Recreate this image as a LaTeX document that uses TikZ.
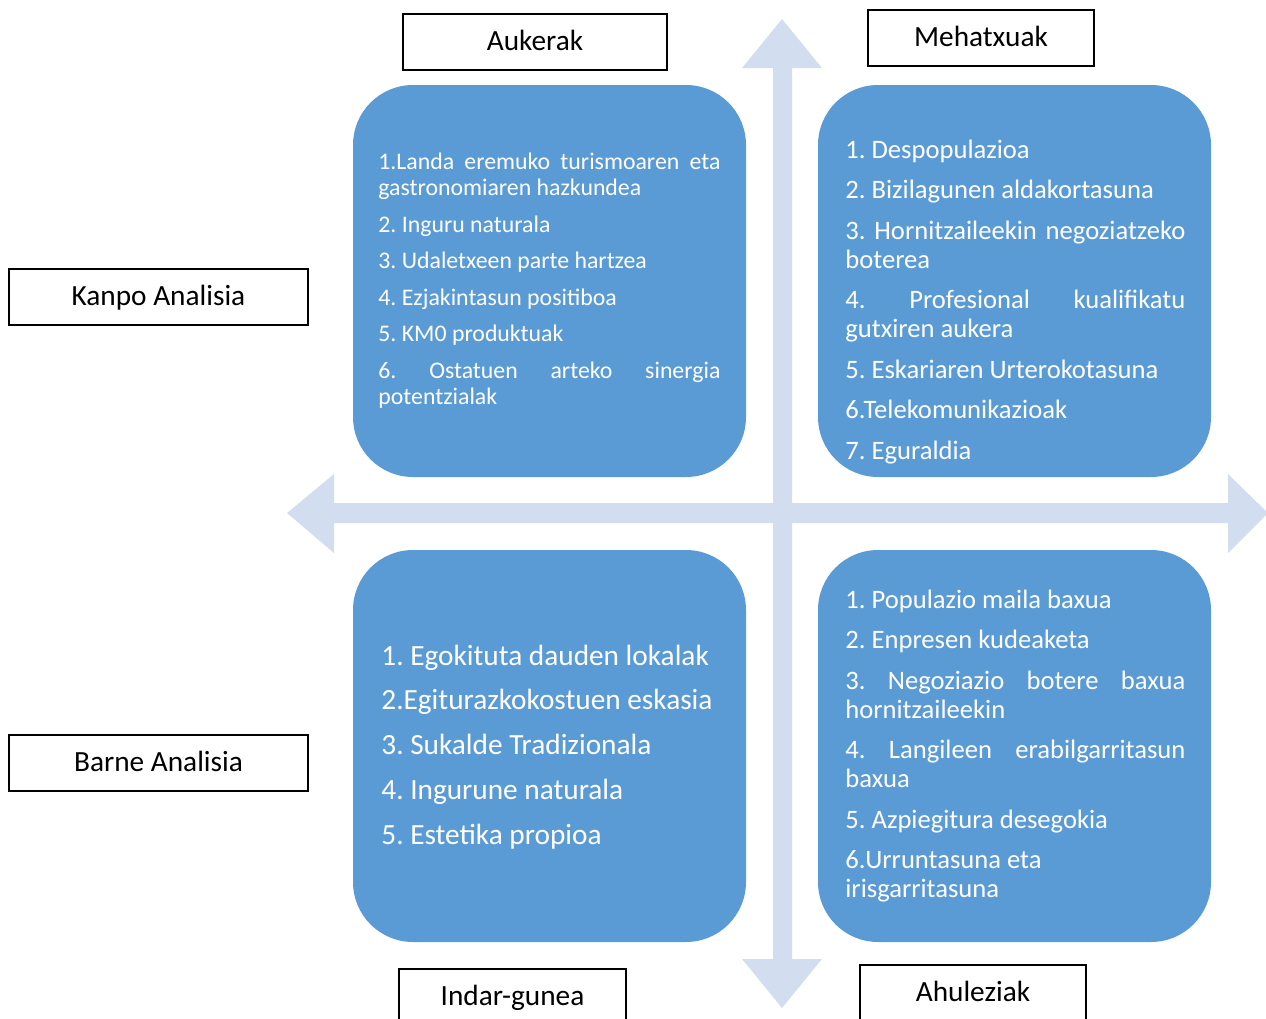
\documentclass[tikz,border=0pt]{standalone}
\usepackage{fontspec}
\setmainfont{Carlito}
\definecolor{boxblue}{HTML}{5B9BD5}
\definecolor{arrowblue}{HTML}{D2DEEF}
\hyphenpenalty=10000
\exhyphenpenalty=10000
\emergencystretch=3em
\frenchspacing

\begin{document}
\begin{tikzpicture}[x=0.5pt,y=-0.5pt,
 titlebox/.style={draw=black,line width=1pt,fill=white,inner sep=0pt,font=\fontsize{14.65}{17}\selectfont,text height=9.4pt,text depth=0pt,minimum height=28pt},
 quad/.style={fill=boxblue,rounded corners=30pt,minimum width=196.5pt,minimum height=196pt,inner sep=0pt},
 items/.style={text=white,anchor=base west,inner sep=0pt,align=justify,font=\fontsize{13.3}{14.5}\selectfont,text width=170pt}]
 \useasboundingbox (0,0) rectangle (1266,1019);
 \clip (0,0) rectangle (1266,1019);
 % axes
 \fill[arrowblue](287,513)--(334,474)--(334,503)--(1228,503)--(1228,474)--(1268,513)--(1228,553)--(1228,523)--(334,523)--(334,553)--cycle;
 \fill[arrowblue](782,19)--(822,68)--(792,68)--(792,959)--(822,959)--(782,1008)--(742,959)--(773,959)--(773,68)--(742,68)--cycle;
 % quadrants
 \node[quad] (opBox) at (549.5,281) {};
 \node[quad] (thBox) at (1014.5,281) {};
 \node[quad] (stBox) at (549.5,746) {};
 \node[quad] (wkBox) at (1014.5,746) {};
 \node[items,text width=171pt,font=\fontsize{11.9}{13.25}\selectfont] (opList) at (378,169) {1.Landa eremuko turismoaren eta gastronomiaren hazkundea\\[5pt]
 2. Inguru naturala\\[5pt]
 3. Udaletxeen parte hartzea\\[5pt]
 4. Ezjakintasun positiboa\\[5pt]
 5. KM0 produktuak\\[5pt]
 6. Ostatuen arteko sinergia potentzialak};
 \node[items] (thList) at (845,158) {1. Despopulazioa\\[5.75pt]
 2. Bizilagunen aldakortasuna\\[5.75pt]
 3. Hornitzaileekin negoziatzeko boterea\\[5.75pt]
 4. Profesional kualifikatu gutxiren aukera\\[5.75pt]
 5. Eskariaren Urterokotasuna\\[5.75pt]
 6.Telekomunikazioak\\[5.75pt]
 7. Eguraldia};
 \node[items,text width=180pt,font=\fontsize{14.65}{22.4}\selectfont] (stList) at (381,665) {1. Egokituta dauden lokalak\\
 2.Egiturazkokostuen eskasia\\
 3. Sukalde Tradizionala\\
 4. Ingurune naturala\\
 5. Estetika propioa};
 \node[items] (wkList) at (845,608) {1. Populazio maila baxua\\[5.75pt]
 2. Enpresen kudeaketa\\[5.75pt]
 3. Negoziazio botere baxua hornitzaileekin\\[5.75pt]
 4. Langileen erabilgarritasun baxua\\[5.75pt]
 5. Azpiegitura desegokia\\[5.75pt]
 6.Urruntasuna eta\\
 irisgarritasuna};
 % labels
 \node[titlebox,minimum width=132pt] (aukerak) at (535,41.5) {Aukerak};
 \node[titlebox,minimum width=113pt] (mehatxuak) at (981,37.5) {Mehatxuak};
 \node[titlebox,minimum width=149.5pt] (kanpo) at (158.5,296.5) {Kanpo Analisia};
 \node[titlebox,minimum width=149.5pt] (barne) at (158.5,762.5) {Barne Analisia};
 \node[titlebox,minimum width=113.5pt] (indar) at (512.5,996.5) {Indar-gunea};
 \node[titlebox,minimum width=113pt] (ahuleziak) at (973,992.5) {Ahuleziak};
\end{tikzpicture}
\end{document}
